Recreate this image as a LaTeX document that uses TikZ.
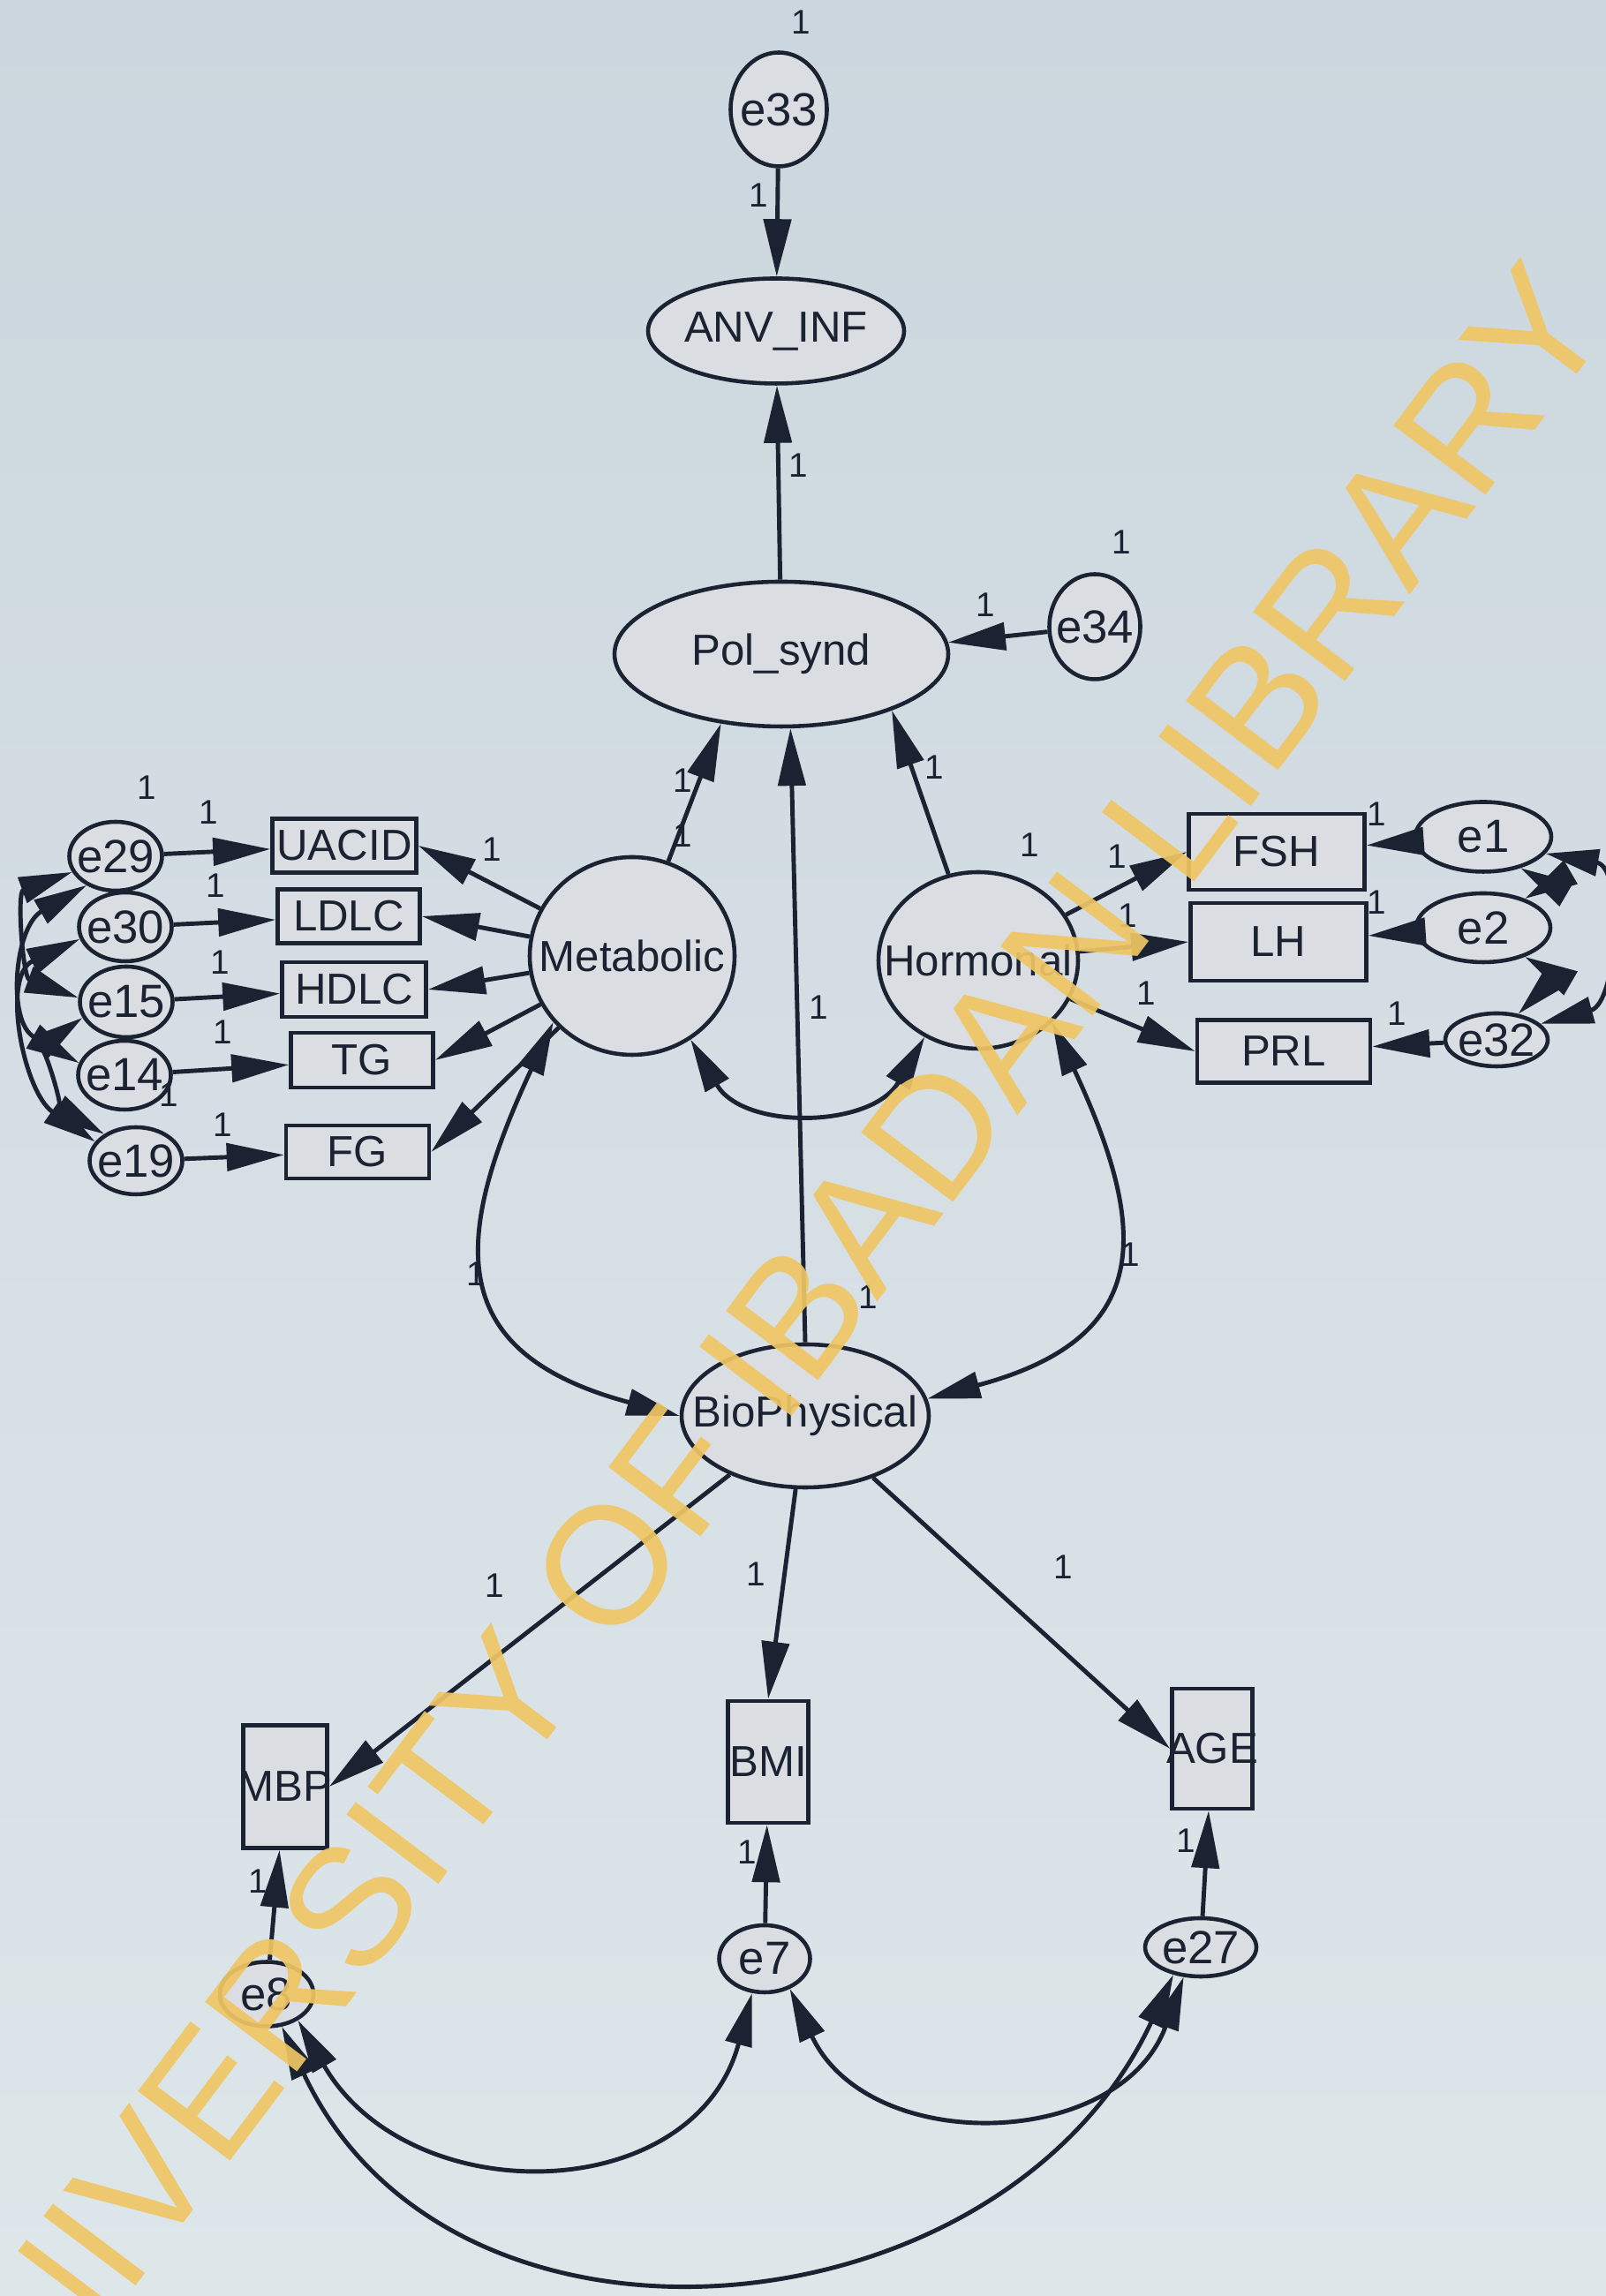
\documentclass[tikz,border=0pt]{standalone}
\usepackage{fontspec}
\setmainfont{Liberation Sans}
\usetikzlibrary{positioning,arrows.meta,shapes.geometric}
\definecolor{PaperTop}{HTML}{CCD6DE}
\definecolor{PaperLow}{HTML}{DDE7EA}
\definecolor{NodeFill}{HTML}{DADDE1}
\definecolor{InkDark}{HTML}{1B2232}
\definecolor{StampGold}{HTML}{F0C664}

\begin{document}
\begin{tikzpicture}[
      lat/.style={ellipse,draw=InkDark,fill=NodeFill,line width=1.3pt,inner xsep=-1cm,inner ysep=0pt,text=InkDark,font=\fontsize{14}{16}\selectfont},
      err/.style={lat,font=\fontsize{15}{17}\selectfont},
      obs/.style={rectangle,draw=InkDark,fill=NodeFill,line width=1.3pt,inner xsep=-0.5cm,inner ysep=0pt,text=InkDark,font=\fontsize{14}{16}\selectfont},
      reg/.style={-{Triangle[length=6.5mm,width=3.1mm]},draw=InkDark,line width=1.4pt},
      cov/.style={{Triangle[length=6mm,width=3mm]}-{Triangle[length=6mm,width=3mm]},draw=InkDark,line width=1.4pt},
      one/.style={font=\fontsize{11}{13}\selectfont,text=InkDark,inner sep=0pt}]
    \shade[top color=PaperTop,bottom color=PaperLow] (0,0) rectangle (18.19,26.01);
    \useasboundingbox (0,0) rectangle (18.19,26.01);
    % latent variables
    \node[lat,minimum width=2.90cm,minimum height=1.19cm] (anv)   at (8.79,22.26) {ANV\_INF};
    \node[lat,minimum width=3.78cm,minimum height=1.64cm] (pol)   at (8.85,18.60) {Pol\_synd};
    \node[lat,minimum width=2.32cm,minimum height=2.24cm] (metab) at (7.16,15.18) {Metabolic};
    \node[lat,minimum width=2.26cm,minimum height=2.00cm] (horm)  at (11.08,15.13) {Hormonal};
    \node[lat,minimum width=2.80cm,minimum height=1.62cm] (bio)   at (9.12,9.97) {BioPhysical};
    % observed variables
    \node[obs,minimum width=1.63cm,minimum height=0.61cm] (uacid) at (3.90,16.43) {UACID};
    \node[obs,minimum width=1.61cm,minimum height=0.61cm] (ldlc)  at (3.95,15.63) {LDLC};
    \node[obs,minimum width=1.63cm,minimum height=0.62cm] (hdlc)  at (4.01,14.80) {HDLC};
    \node[obs,minimum width=1.61cm,minimum height=0.62cm] (tg)    at (4.10,14.00) {TG};
    \node[obs,minimum width=1.62cm,minimum height=0.60cm] (fg)    at (4.05,12.96) {FG};
    \node[obs,minimum width=1.99cm,minimum height=0.86cm] (fsh)   at (14.46,16.36) {FSH};
    \node[obs,minimum width=1.99cm,minimum height=0.88cm] (lh)    at (14.48,15.34) {LH};
    \node[obs,minimum width=1.96cm,minimum height=0.71cm] (prl)   at (14.54,14.10) {PRL};
    \node[obs,minimum width=0.95cm,minimum height=1.39cm] (mbp)   at (3.23,5.77) {MBP};
    \node[obs,minimum width=0.91cm,minimum height=1.38cm] (bmi)   at (8.70,6.05) {BMI};
    \node[obs,minimum width=0.91cm,minimum height=1.36cm] (age)   at (13.73,6.20) {AGE};
    % error terms
    \node[err,minimum width=1.09cm,minimum height=1.29cm] (e33) at (8.82,24.77) {e33};
    \node[err,minimum width=1.03cm,minimum height=1.19cm] (e34) at (12.40,18.91) {e34};
    \node[err,minimum width=1.05cm,minimum height=0.78cm] (e29) at (1.31,16.31) {e29};
    \node[err,minimum width=1.05cm,minimum height=0.78cm] (e30) at (1.42,15.51) {e30};
    \node[err,minimum width=1.05cm,minimum height=0.80cm] (e15) at (1.43,14.66) {e15};
    \node[err,minimum width=1.05cm,minimum height=0.78cm] (e14) at (1.41,13.83) {e14};
    \node[err,minimum width=1.05cm,minimum height=0.76cm] (e19) at (1.54,12.86) {e19};
    \node[err,minimum width=1.54cm,minimum height=0.79cm] (e1)  at (16.80,16.53) {e1};
    \node[err,minimum width=1.52cm,minimum height=0.78cm] (e2)  at (16.80,15.50) {e2};
    \node[err,minimum width=1.16cm,minimum height=0.60cm] (e32) at (16.95,14.23) {e32};
    \node[err,minimum width=1.06cm,minimum height=0.73cm] (e8)  at (3.02,3.42) {e8};
    \node[err,minimum width=1.03cm,minimum height=0.76cm] (e7)  at (8.66,3.82) {e7};
    \node[err,minimum width=1.26cm,minimum height=0.66cm] (e27) at (13.60,3.95) {e27};
    % structural paths
    \draw[reg] (e33) -- (anv);
    \draw[reg] (pol) -- (anv);
    \draw[reg] (e34) -- (pol.4);
    \draw[reg] (metab) -- (pol.-131);
    \draw[reg] (bio.north) -- (pol.-83);
    \draw[reg] (horm) -- (pol.-27);
    % loadings
    \draw[reg] (metab) -- (uacid.east);
    \draw[reg] (metab) -- (ldlc.east);
    \draw[reg] (metab) -- (hdlc.east);
    \draw[reg] (metab) -- (tg.east);
    \draw[reg] (metab) -- (fg.east);
    \draw[reg] (horm) -- (fsh.west);
    \draw[reg] (horm) -- (lh.west);
    \draw[reg] (horm) -- (prl.west);
    \draw[reg] (bio) -- (mbp.east);
    \draw[reg] (bio) -- (bmi.north);
    \draw[reg] (bio) -- (age.west);
    % errors to indicators
    \draw[reg] (e29) -- (uacid);
    \draw[reg] (e30) -- (ldlc);
    \draw[reg] (e15) -- (hdlc);
    \draw[reg] (e14) -- (tg);
    \draw[reg] (e19) -- (fg);
    \draw[reg] (e1) -- (fsh);
    \draw[reg] (e2) -- (lh);
    \draw[reg] (e32) -- (prl);
    \draw[reg] (e8) -- (mbp);
    \draw[reg] (e7) -- (bmi);
    \draw[reg] (e27) -- (age);
    % covariances
    \draw[cov] (metab.-55) to[out=-60,in=-120,looseness=1.15] (horm.-125);
    \draw[cov] (metab.-140) to[out=-115,in=165,looseness=1.5] (bio.west);
    \draw[cov] (horm.-40) to[out=-65,in=15,looseness=1.5] (bio.8);
    \draw[cov] (e29.200) to[out=200,in=160,looseness=1.2] (e15.175);
    \draw[cov] (e29.225) to[out=210,in=150,looseness=1.2] (e14.165);
    \draw[cov] (e30.195) to[out=205,in=145,looseness=1.1] (e19.155);
    \draw[cov] (e15.200) to[out=215,in=150] (e19.140);
    \draw[cov] (e1.-15) to[out=-10,in=15,looseness=1.2] (e32.20);
    \draw[cov] (e1.-40) to[out=-30,in=30] (e2.35);
    \draw[cov] (e2.-35) to[out=-30,in=45] (e32.50);
    \draw[cov] (e8.-40) to[out=-60,in=-105,looseness=1.25] (e7.-110);
    \draw[cov] (e7.-50) to[out=-65,in=-110,looseness=1.2] (e27.-120);
    \draw[cov] (e8.-65) to[out=-65,in=-115,looseness=1.15] (e27.-135);
    % fixed parameters
    \node[one] (v33) at (9.07,25.76) {1};
    \node[one] (w33) at (8.59,23.80) {1};
    \node[one] (wpol) at (9.04,20.74) {1};
    \node[one] (v34) at (12.70,19.87) {1};
    \node[one] (w34) at (11.16,19.16) {1};
    \node[one] (wma) at (7.73,17.17) {1};
    \node[one] (wmb) at (7.73,16.55) {1};
    \node[one] (who) at (10.58,17.32) {1};
    \node[one] (vho) at (11.66,16.44) {1};
    \node[one] (wfsh) at (12.65,16.31) {1};
    \node[one] (wlh) at (12.77,15.64) {1};
    \node[one] (wprl) at (12.98,14.76) {1};
    \node[one] (we1) at (15.59,16.79) {1};
    \node[one] (we2) at (15.59,15.79) {1};
    \node[one] (we32) at (15.82,14.53) {1};
    \node[one] (vleft) at (1.66,17.09) {1};
    \node[one] (we29) at (2.36,16.81) {1};
    \node[one] (we30) at (2.44,15.98) {1};
    \node[one] (we15) at (2.49,15.11) {1};
    \node[one] (we14) at (2.52,14.32) {1};
    \node[one] (we19) at (2.52,13.27) {1};
    \node[one] (wua) at (5.57,16.39) {1};
    \node[one] (ve14) at (1.91,13.61) {1};
    \node[one] (wbio) at (9.27,14.60) {1};
    \node[one] (vbio) at (9.83,11.32) {1};
    \node[one] (cmb) at (5.39,11.58) {1};
    \node[one] (chb) at (12.80,11.80) {1};
    \node[one] (wmbp) at (5.60,8.05) {1};
    \node[one] (wbmi) at (8.56,8.18) {1};
    \node[one] (wage) at (12.04,8.26) {1};
    \node[one] (we8) at (2.92,4.70) {1};
    \node[one] (we7) at (8.46,5.03) {1};
    \node[one] (we27) at (13.43,5.16) {1};
    % library stamp
    \node[rotate=53,text=StampGold,opacity=0.92,font=\fontsize{54}{60}\selectfont] (stamp) at (8.52,10.46) {UNIVERSITY OF IBADAN LIBRARY};
  \end{tikzpicture}
\end{document}
